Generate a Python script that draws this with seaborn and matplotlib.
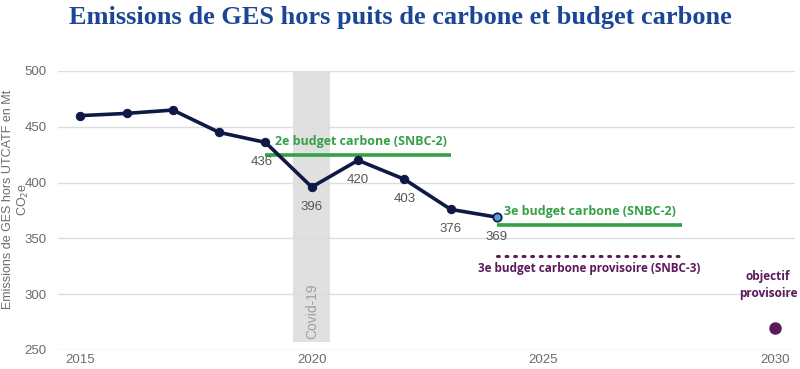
import matplotlib
matplotlib.use("Agg")
import matplotlib.pyplot as plt
import seaborn as sns
import pandas as pd

# --- data ---
years = [2015, 2016, 2017, 2018, 2019, 2020, 2021, 2022, 2023, 2024]
emissions = [460, 462, 465, 445, 436, 396, 420, 403, 376, 369]
labelled_years = [2019, 2020, 2021, 2022, 2023, 2024]

budget2_years = [2019, 2023]
budget2_value = 425
budget3_years = [2024, 2028]
budget3_value = 362
budget3_prov_years = [2024, 2028]
budget3_prov_value = 334
objective_year = 2030
objective_value = 270
covid_span = [2019.6, 2020.4]

yticks = [250, 300, 350, 400, 450, 500]
xticks = [2015, 2020, 2025, 2030]

NAVY = "#0e1a45"
GREEN = "#36a047"
PURPLE = "#5b1a5b"
GREY_TXT = "#6b6b6b"

sns.set_style("white")
plt.rcParams["font.family"] = ["Liberation Sans", "DejaVu Sans"]
LABEL_FONT = ["Open Sans", "DejaVu Sans"]

df = pd.DataFrame({"year": years, "emissions": emissions})

fig = plt.figure(figsize=(8, 3.69), dpi=100)
ax = fig.add_axes([0.0725, 0.0515, 0.9215, 0.7561])

# covid band
ax.axvspan(covid_span[0], covid_span[1], ymin=0.03, ymax=1.0, color="#e0e0e0", zorder=0, lw=0)
ax.text(sum(covid_span) / 2, 285, "Covid-19", rotation=90, ha="center", va="center",
        color="#a0a0a0", fontsize=10, zorder=1)

# main series
sns.lineplot(data=df, x="year", y="emissions", ax=ax, color=NAVY, lw=2.6,
             marker="o", markersize=6, markeredgecolor=NAVY, markerfacecolor=NAVY, zorder=3)
last = df.iloc[-1]
ax.plot([last["year"]], [last["emissions"]], "o", ms=6, mfc="#5b9be0", mec=NAVY, mew=1.2, zorder=4)

for y, v in zip(years, emissions):
    if y in labelled_years:
        dx = -3 if y == 2019 else 0
        ax.annotate(f"{v}", (y, v), xytext=(dx, -14), textcoords="offset points",
                    ha="center", va="center", fontsize=9.5, color="#555555", zorder=5)

# budgets
ax.plot(budget2_years, [budget2_value] * 2, color=GREEN, lw=2.6, solid_capstyle="butt", zorder=2)
ax.text(sum(budget2_years) / 2 + 0.07, budget2_value + 6, "2e budget carbone (SNBC-2)",
        ha="center", va="bottom", color=GREEN, fontsize=9, fontweight="bold", family=LABEL_FONT)

ax.plot(budget3_years, [budget3_value] * 2, color=GREEN, lw=2.6, solid_capstyle="butt", zorder=2)
ax.text(sum(budget3_years) / 2, budget3_value + 6, "3e budget carbone (SNBC-2)",
        ha="center", va="bottom", color=GREEN, fontsize=9, fontweight="bold", family=LABEL_FONT)

ax.plot(budget3_prov_years, [budget3_prov_value] * 2, color=PURPLE, lw=2.2,
        linestyle=(0, (0.6, 2.2)), dash_capstyle="round", zorder=2)
ax.text(sum(budget3_prov_years) / 2, budget3_prov_value - 5, "3e budget carbone provisoire (SNBC-3)",
        ha="center", va="top", color=PURPLE, fontsize=8.5, fontweight="bold", family=LABEL_FONT)

ax.plot([objective_year], [objective_value], "o", ms=8, color=PURPLE, zorder=3)
ax.text(objective_year - 0.15, 308, "objectif\nprovisoire", ha="center", va="center",
        color=PURPLE, fontsize=8.5, fontweight="bold", linespacing=1.4, family=LABEL_FONT)

# axes styling
ax.set_xlim(2014.52, 2030.44)
ax.set_ylim(250, 500)
ax.set_yticks(yticks)
ax.set_xticks(xticks)
ax.yaxis.grid(True, color="#dddddd", lw=1)
ax.xaxis.grid(False)
sns.despine(ax=ax, left=True, bottom=True)
ax.tick_params(axis="both", length=0, labelsize=9.5, colors=GREY_TXT)
ax.tick_params(axis="x", pad=3)
ax.tick_params(axis="y", pad=8)
ax.set_xlabel("")
ax.set_ylabel("Emissions de GES hors UTCATF en Mt\nCO$_2$e", fontsize=9, color=GREY_TXT,
              linespacing=1.2)
ax.yaxis.set_label_coords(-0.036, 0.54)

fig.text(0.5, 0.953, "Emissions de GES hors puits de carbone et budget carbone",
         ha="center", va="center", fontsize=19, fontweight="bold", color="#1b4696",
         family=["Liberation Serif", "DejaVu Serif"])

fig.savefig("out.png", dpi=100)
